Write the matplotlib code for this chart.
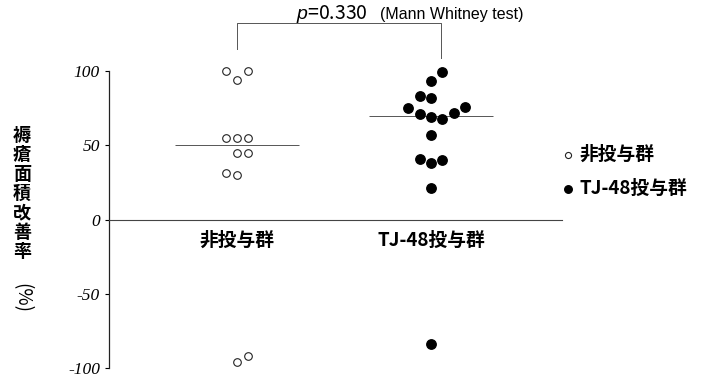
import matplotlib
matplotlib.use("Agg")
import matplotlib.pyplot as plt
import numpy as np

plt.rcParams['font.family'] = ['Noto Sans CJK JP', 'DejaVu Sans']
plt.rcParams['axes.unicode_minus'] = False
plt.rcParams['mathtext.fontset'] = 'custom'
plt.rcParams['mathtext.it'] = 'Liberation Sans:italic'
plt.rcParams['mathtext.rm'] = 'Liberation Sans'

# --- data ---
groups = ['非投与群', 'TJ-48投与群']
control_vals = [100, 94, 100, 55, 55, 55, 45, 45, 31, 30, -96, -92]
tj48_vals = [99, 93, 83, 82, 75, 76, 71, 72, 69, 68, 57, 41, 38, 40, 21, -84]
yticks = [100, 50, 0, -50, -100]
ytick_labels = ['100', '50', '0', '-50', '-100']
p_text = r'$p$=0.330'
test_text = '(Mann Whitney test)'
ylabel_chars = ['褥', '瘡', '面', '積', '改', '善', '率']

# swarm slots (dot layout only)
control_slots = [-1, 0, 1, -1, 0, 1, 0, 1, -1, 0, 0, 1]
tj48_slots = [1, 0, -1, 0, -2, 3, -1, 2, 0, 1, 0, -1, 0, 1, 0, 0]
slot_w = 0.059

W, H = 703, 377
fig = plt.figure(figsize=(W / 100, H / 100), dpi=100)
ax = fig.add_axes([109 / W, 9 / H, (562 - 109) / W, 297 / H])
ax.set_xlim(0.34, 2.675)
ax.set_ylim(-100, 100)

x1 = 1 + slot_w * np.array(control_slots)
x2 = 2 + slot_w * np.array(tj48_slots)
ax.scatter(x1, control_vals, s=30, facecolors='white', edgecolors='#222222',
           linewidths=0.8, clip_on=False, zorder=3, label=groups[0])
ax.scatter(x2, tj48_vals, s=46, color='black', clip_on=False, zorder=3,
           label=groups[1])

# median lines
for xc, vals in [(1, control_vals), (2, tj48_vals)]:
    ax.hlines(np.median(vals), xc - 0.32, xc + 0.32, color='#555555',
              linewidth=0.7, zorder=2)

# axes styling
for s in ['top', 'right']:
    ax.spines[s].set_visible(False)
ax.spines['bottom'].set_position(('data', 0))
ax.spines['bottom'].set_linewidth(0.8)
ax.spines['bottom'].set_color('#444444')
ax.spines['left'].set_linewidth(0.9)
ax.spines['left'].set_color('#222222')

ax.set_yticks(yticks)
ax.set_yticklabels(ytick_labels, family='Liberation Serif', style='italic',
                   fontsize=12.5)
ax.tick_params(axis='y', length=3, width=0.8, pad=3.5)
ax.set_xticks([1, 2])
ax.set_xticklabels(groups, fontsize=13.5, fontweight='bold')
ax.tick_params(axis='x', length=0, pad=8)

# y label, vertical characters
for i, ch in enumerate(ylabel_chars):
    fig.text(22 / W, 1 - (135.5 + 19.4 * i) / H, ch, fontsize=13,
             fontweight='bold', ha='center', va='center')
fig.text(22 / W, 1 - 298 / H, '(%)', fontsize=13.5, rotation=-90,
         ha='center', va='center')

# significance bracket
ax.plot([1.0, 1.0, 2.05, 2.05], [115, 132, 132, 109], color='#555555',
        linewidth=0.7, clip_on=False)
ax.text(1.49, 135, p_text, fontsize=14, ha='center', va='baseline')
ax.text(1.737, 135, test_text, fontsize=11.5, family='Liberation Sans',
        ha='left', va='baseline')

leg = ax.legend(loc='center left', bbox_to_anchor=(551 / W, 1 - 171 / H),
                bbox_transform=fig.transFigure, frameon=False,
                prop={'size': 13.5, 'weight': 'bold'}, handletextpad=0.1,
                labelspacing=0.8, borderaxespad=0, handlelength=1.0,
                markerscale=0.8)

fig.savefig('out.png', dpi=100)
